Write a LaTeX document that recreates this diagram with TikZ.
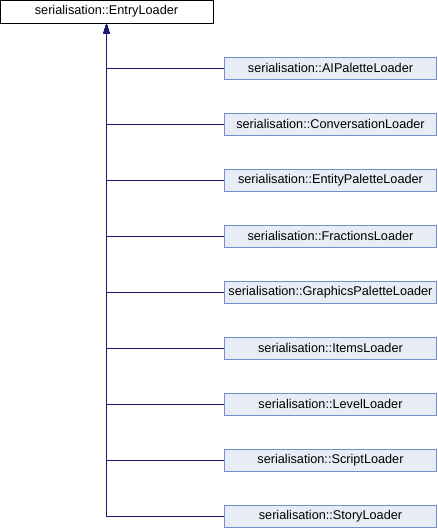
\documentclass[tikz,border=0pt]{standalone}
\usepackage{fontspec}
\setmainfont{Liberation Sans}
\usetikzlibrary{arrows.meta}
\definecolor{edge}{HTML}{191970}
\definecolor{cfill}{HTML}{E8ECF5}
\definecolor{cdraw}{HTML}{7090D0}
\tikzset{
  rootbox/.style={draw=black, fill=white, line width=0.8pt, minimum width=213pt, minimum height=23pt, inner sep=0pt, font=\fontsize{12.7}{14}\selectfont},
  childbox/.style={draw=cdraw, fill=cfill, line width=0.8pt, minimum width=212pt, minimum height=22pt, inner sep=0pt, font=\fontsize{12.7}{14}\selectfont},
  inherit/.style={draw=edge, line width=0.9pt, -{Triangle[length=10pt,width=6pt]}}
}
\begin{document}
\begin{tikzpicture}[x=1pt,y=-1pt]
\useasboundingbox (0,0) rectangle (438,528);
\node[rootbox] (root) at (106.5,11.5) {serialisation::EntryLoader};
\node[childbox] (c1) at (330.5,68) {serialisation::AIPaletteLoader};
\node[childbox] (c2) at (330.5,124) {serialisation::ConversationLoader};
\node[childbox] (c3) at (330.5,180) {serialisation::EntityPaletteLoader};
\node[childbox] (c4) at (330.5,236) {serialisation::FractionsLoader};
\node[childbox] (c5) at (330.5,292) {serialisation::GraphicsPaletteLoader};
\node[childbox] (c6) at (330.5,348) {serialisation::ItemsLoader};
\node[childbox] (c7) at (330.5,404) {serialisation::LevelLoader};
\node[childbox] (c8) at (330.5,460) {serialisation::ScriptLoader};
\node[childbox] (c9) at (330.5,516) {serialisation::StoryLoader};
\foreach \c in {c1,c2,c3,c4,c5,c6,c7,c8,c9}{
  \draw[inherit] (\c.west) -| (root.south);
}
\end{tikzpicture}
\end{document}
